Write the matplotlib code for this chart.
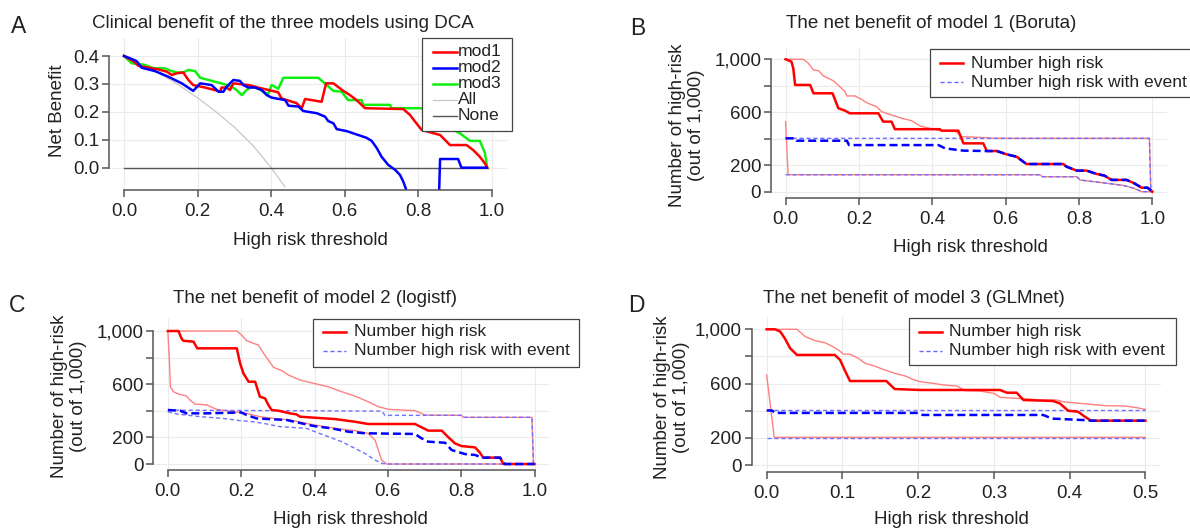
import matplotlib
matplotlib.use("Agg")
import matplotlib.pyplot as plt
from matplotlib.lines import Line2D
from matplotlib.patches import Rectangle

plt.rcParams['font.family'] = ['Liberation Sans', 'DejaVu Sans']

# ---- panel A: decision curves ----
mod1_x = [0, 0.025, 0.039, 0.075, 0.093, 0.116, 0.13, 0.143, 0.161, 0.175, 0.188, 0.22, 0.247, 0.261, 0.265,
          0.279, 0.288, 0.297, 0.338, 0.374, 0.419, 0.428, 0.469, 0.483, 0.492, 0.537, 0.549, 0.569, 0.596,
          0.614, 0.632, 0.655, 0.759, 0.777, 0.791, 0.809, 0.859, 0.886, 0.931, 0.949, 0.967, 0.981, 0.987]
mod1_y = [0.40, 0.382, 0.365, 0.356, 0.352, 0.344, 0.332, 0.338, 0.341, 0.314, 0.296, 0.287, 0.278, 0.272, 0.287,
          0.287, 0.278, 0.302, 0.296, 0.284, 0.27, 0.248, 0.231, 0.213, 0.246, 0.236, 0.302, 0.302, 0.275,
          0.26, 0.242, 0.213, 0.21, 0.189, 0.165, 0.135, 0.117, 0.081, 0.081, 0.063, 0.039, 0.015, 0.0]
mod2_x = [0, 0.016, 0.034, 0.048, 0.084, 0.12, 0.157, 0.188, 0.207, 0.238, 0.257, 0.27, 0.279, 0.297, 0.315,
          0.324, 0.338, 0.356, 0.374, 0.388, 0.401, 0.438, 0.447, 0.474, 0.487, 0.524, 0.546, 0.555, 0.569,
          0.578, 0.605, 0.632, 0.659, 0.673, 0.687, 0.70, 0.718, 0.737, 0.75, 0.759, 0.766, 0.768, 0.854,
          0.856, 0.859, 0.908, 0.917, 0.985]
mod2_y = [0.40, 0.392, 0.382, 0.358, 0.346, 0.326, 0.302, 0.275, 0.302, 0.296, 0.272, 0.272, 0.29, 0.314, 0.311,
          0.296, 0.287, 0.287, 0.278, 0.26, 0.251, 0.242, 0.222, 0.219, 0.203, 0.195, 0.183, 0.167, 0.159,
          0.138, 0.131, 0.119, 0.107, 0.096, 0.07, 0.039, 0.01, -0.008, -0.026, -0.05, -0.075, -0.15, -0.15,
          -0.10, 0.031, 0.031, 0.0, 0.0]
mod3_x = [0, 0.021, 0.057, 0.08, 0.111, 0.129, 0.143, 0.161, 0.175, 0.193, 0.207, 0.247, 0.265, 0.293, 0.306,
          0.32, 0.333, 0.347, 0.365, 0.379, 0.392, 0.401, 0.41, 0.419, 0.433, 0.528, 0.542, 0.569, 0.591,
          0.609, 0.646, 0.65, 0.723, 0.727, 0.808, 0.84, 0.87, 0.904, 0.913, 0.94, 0.967, 0.981, 0.987]
mod3_y = [0.40, 0.374, 0.368, 0.356, 0.356, 0.346, 0.341, 0.341, 0.35, 0.346, 0.322, 0.308, 0.302, 0.29, 0.278,
          0.26, 0.278, 0.29, 0.284, 0.272, 0.263, 0.296, 0.29, 0.282, 0.322, 0.322, 0.306, 0.275, 0.272,
          0.242, 0.242, 0.225, 0.225, 0.213, 0.213, 0.19, 0.16, 0.129, 0.123, 0.096, 0.096, 0.052, 0.0]
all_x = [0, 0.05, 0.1, 0.15, 0.2, 0.25, 0.3, 0.35, 0.4, 0.437]
all_y = [0.40, 0.37, 0.335, 0.295, 0.25, 0.20, 0.145, 0.08, 0.0, -0.068]
none_x = [0, 0.99]
none_y = [0, 0]

# ---- panel B: model 1 (Boruta) ----
b_nhr_x = [0, 0.016, 0.021, 0.026, 0.067, 0.076, 0.128, 0.144, 0.162, 0.175, 0.253, 0.266, 0.289, 0.298, 0.421,
           0.425, 0.471, 0.485, 0.539, 0.549, 0.576, 0.603, 0.63, 0.648, 0.657, 0.757, 0.766, 0.794, 0.821,
           0.848, 0.869, 0.889, 0.93, 0.951, 0.971, 0.987, 1.0]
b_nhr = [1000, 982, 932, 806, 806, 743, 743, 630, 612, 592, 592, 529, 529, 472, 472, 461, 461, 365, 365, 307,
         307, 282, 264, 227, 209, 209, 189, 159, 159, 134, 122, 89, 89, 63, 30, 30, 0]
b_nhr_up_x = [0, 0.048, 0.062, 0.076, 0.09, 0.103, 0.13, 0.148, 0.162, 0.167, 0.189, 0.202, 0.225, 0.248, 0.262,
              0.289, 0.317, 0.344, 0.367, 0.394, 0.421, 0.466, 0.479, 0.53, 0.576, 0.992, 0.996]
b_nhr_up = [1000, 1000, 970, 919, 914, 874, 838, 793, 755, 723, 723, 705, 667, 642, 604, 579, 554, 536, 496,
            478, 461, 453, 416, 410, 403, 403, 0]
b_nhr_lo_x = [0, 0.007, 0.694, 0.70, 0.794, 0.803, 0.84, 0.88, 0.92, 0.951, 0.971, 1.0]
b_nhr_lo = [529, 128, 128, 113, 113, 88, 76, 62, 48, 25, 0, 0]
b_ev_x = [0, 0.026, 0.03, 0.167, 0.173, 0.417, 0.435, 0.485, 0.549, 0.576, 0.603, 0.63, 0.648, 0.657, 0.757,
          0.766, 0.794, 0.821, 0.848, 0.869, 0.889, 0.93, 0.951, 0.971, 0.987, 1.0]
b_ev = [403, 403, 385, 385, 352, 352, 327, 310, 307, 307, 282, 264, 227, 209, 209, 189, 159, 159, 134, 122,
        89, 89, 63, 30, 30, 0]
b_ev_up_x = [0, 0.992, 0.996]
b_ev_up = [403, 403, 0]
b_ev_lo_x = [0, 0.694, 0.70, 0.794, 0.803, 0.84, 0.88, 0.92, 0.951, 0.971, 1.0]
b_ev_lo = [128, 128, 113, 113, 88, 76, 62, 48, 25, 0, 0]

# ---- panel C: model 2 (logistf) ----
c_nhr_x = [0, 0.029, 0.037, 0.042, 0.07, 0.08, 0.188, 0.197, 0.206, 0.22, 0.238, 0.251, 0.265, 0.274, 0.283,
           0.301, 0.333, 0.351, 0.36, 0.401, 0.456, 0.51, 0.546, 0.674, 0.692, 0.71, 0.747, 0.765, 0.783,
           0.801, 0.838, 0.851, 0.86, 0.906, 0.915, 1.0]
c_nhr = [1000, 1000, 945, 927, 920, 870, 870, 757, 682, 619, 619, 506, 494, 444, 406, 401, 381, 373, 356, 348,
         338, 318, 301, 301, 276, 251, 251, 201, 155, 135, 125, 85, 48, 48, 0, 0]
c_nhr_up_x = [0, 0.188, 0.201, 0.215, 0.234, 0.247, 0.261, 0.274, 0.288, 0.311, 0.329, 0.36, 0.397, 0.437,
              0.474, 0.51, 0.546, 0.574, 0.602, 0.674, 0.702, 0.801, 0.806, 0.993, 0.997]
c_nhr_up = [1000, 1000, 970, 927, 907, 895, 832, 782, 727, 702, 669, 632, 607, 581, 544, 511, 469, 431, 411,
            401, 368, 366, 351, 351, 0]
c_nhr_lo_x = [0, 0.004, 0.007, 0.015, 0.029, 0.051, 0.06, 0.074, 0.106, 0.133, 0.179, 0.215, 0.251, 0.288,
              0.333, 0.388, 0.401, 0.456, 0.51, 0.546, 0.565, 0.574, 0.583, 0.597, 1.0]
c_nhr_lo = [1000, 782, 581, 544, 526, 511, 481, 451, 444, 411, 393, 381, 356, 343, 331, 300, 293, 268, 251,
            231, 180, 105, 30, 0, 0]
c_ev_x = [0, 0.033, 0.051, 0.106, 0.2, 0.215, 0.242, 0.288, 0.324, 0.397, 0.447, 0.492, 0.538, 0.674, 0.692,
          0.71, 0.756, 0.774, 0.81, 0.838, 0.856, 0.906, 0.919, 1.0]
c_ev = [406, 401, 381, 381, 388, 368, 343, 336, 331, 286, 268, 243, 231, 226, 193, 168, 160, 105, 75, 68, 48,
        48, 0, 0]
c_ev_up_x = [0, 0.583, 0.592, 0.801, 0.806, 0.993, 0.997]
c_ev_up = [405, 398, 366, 366, 351, 351, 0]
c_ev_lo_x = [0, 0.024, 0.051, 0.088, 0.151, 0.197, 0.233, 0.27, 0.306, 0.378, 0.401, 0.437, 0.474, 0.51,
             0.537, 0.565, 0.583, 0.6, 1.0]
c_ev_lo = [393, 376, 368, 356, 343, 326, 318, 301, 281, 268, 243, 206, 168, 118, 80, 30, 5, 0, 0]

# ---- panel D: model 3 (GLMnet) ----
d_nhr_x = [0, 0.011, 0.018, 0.024, 0.031, 0.04, 0.09, 0.097, 0.103, 0.11, 0.158, 0.169, 0.202, 0.308, 0.317,
           0.33, 0.339, 0.378, 0.387, 0.398, 0.411, 0.42, 0.428, 0.5]
d_nhr = [1000, 1000, 983, 933, 860, 811, 811, 774, 700, 619, 619, 560, 553, 553, 533, 533, 479, 472, 454, 400,
         393, 356, 327, 327]
d_nhr_up_x = [0, 0.04, 0.051, 0.064, 0.077, 0.086, 0.095, 0.101, 0.11, 0.121, 0.13, 0.141, 0.156, 0.169,
              0.183, 0.193, 0.202, 0.22, 0.233, 0.251, 0.262, 0.282, 0.3, 0.308, 0.33, 0.348, 0.361, 0.383,
              0.391, 0.404, 0.422, 0.448, 0.473, 0.488, 0.5]
d_nhr_up = [1000, 1000, 946, 916, 901, 877, 847, 818, 816, 786, 749, 732, 700, 676, 656, 631, 614, 602, 590,
            582, 548, 545, 528, 499, 491, 486, 479, 479, 467, 459, 450, 437, 435, 423, 410]
d_nhr_lo_x = [0, 0.01, 0.5]
d_nhr_lo = [663, 204, 204]
d_ev_x = [0, 0.007, 0.011, 0.2, 0.206, 0.365, 0.377, 0.397, 0.423, 0.428, 0.5]
d_ev = [402, 402, 384, 384, 369, 369, 342, 337, 330, 327, 327]
d_ev_up_x = [0, 0.5]
d_ev_up = [402, 402]
d_ev_lo_x = [0, 0.5]
d_ev_lo = [202, 202]

x_ticks_1 = [0, 0.2, 0.4, 0.6, 0.8, 1.0]
x_labels_1 = ['0.0', '0.2', '0.4', '0.6', '0.8', '1.0']
x_ticks_d = [0, 0.1, 0.2, 0.3, 0.4, 0.5]
x_labels_d = ['0.0', '0.1', '0.2', '0.3', '0.4', '0.5']
nb_ticks = [0, 0.1, 0.2, 0.3, 0.4]
nb_labels = ['0.0', '0.1', '0.2', '0.3', '0.4']
n_ticks = [0, 200, 400, 600, 800, 1000]
n_labels = ['0', '200', '', '600', '', '1,000']

W, H = 1190, 528
TXT = '#222222'
AX = '#555555'
FS = 13.5
LFS = 12.6

fig = plt.figure(figsize=(W / 100, H / 100), dpi=100)


def px_axes(left, right, top, bottom):
    return fig.add_axes([left / W, 1 - bottom / H, (right - left) / W, (bottom - top) / H])


def style(ax, xt, xl, yt, yl):
    ax.set_xticks(xt)
    ax.set_xticklabels(xl)
    ax.set_yticks(yt)
    ax.set_yticklabels(yl)
    ax.grid(True, color='#EBEBEB', lw=0.8)
    ax.set_axisbelow(True)
    ax.spines['top'].set_visible(False)
    ax.spines['right'].set_visible(False)
    ax.spines['left'].set_bounds(yt[0], yt[-1])
    ax.spines['bottom'].set_bounds(xt[0], xt[-1])
    for s in ['left', 'bottom']:
        ax.spines[s].set_color(AX)
        ax.spines[s].set_linewidth(1.1)
    ax.tick_params(length=5, width=1.1, color=AX, labelsize=FS, labelcolor=TXT)
    ax.tick_params(axis='x', pad=4.5)
    ax.tick_params(axis='y', pad=2)


def ftext(x, y, s, **kw):
    kw.setdefault('color', TXT)
    kw.setdefault('fontsize', FS)
    fig.text(x / W, 1 - y / H, s, **kw)


def legend(left, top, right, bottom, rows, x0, x1, xt):
    fig.add_artist(Rectangle((left / W, 1 - bottom / H), (right - left) / W, (bottom - top) / H,
                             transform=fig.transFigure, facecolor='white', edgecolor='#444444', lw=0.9))
    for y, color, ls, lw, label in rows:
        fig.add_artist(Line2D([x0 / W, x1 / W], [1 - y / H, 1 - y / H], transform=fig.transFigure,
                              color=color, ls=ls, lw=lw))
        ftext(xt, y, label, ha='left', va='center', fontsize=LFS)


# ---- A ----
axA = px_axes(109.3, 506.7, 38, 190)
axA.set_xlim(-0.04, 1.04)
axA.set_ylim(-0.08, 0.4645)
axA.plot(all_x, all_y, color='#C8C8C8', lw=0.9)
axA.plot(none_x, none_y, color='#555555', lw=1.0)
axA.plot(mod3_x, mod3_y, color='#11EE11', lw=1.8)
axA.plot(mod1_x, mod1_y, color='#FF0000', lw=1.8)
axA.plot(mod2_x, mod2_y, color='#0000FF', lw=1.8)
style(axA, x_ticks_1, x_labels_1, nb_ticks, nb_labels)
legend(421.7, 37.7, 512, 131,
       [(51.5, '#FF0000', '-', 1.8, 'mod1'), (67.5, '#0000FF', '-', 1.8, 'mod2'),
        (83.5, '#11EE11', '-', 1.8, 'mod3'), (99.5, '#C8C8C8', '-', 0.9, 'All'),
        (115.5, '#555555', '-', 1.0, 'None')], 433, 457, 458)
ftext(283, 28.3, 'Clinical benefit of the three models using DCA', ha='center', va='baseline')
ftext(310, 245, 'High risk threshold', ha='center', va='baseline')
ftext(57, 111, 'Net Benefit', ha='center', va='center', rotation=90)
ftext(11, 33.3, 'A', ha='left', va='baseline', fontsize=16.5)


def impact(ax, d):
    nx, n, ux, u, lx, lo, ex, e, eux, eu, elx, el = d
    ax.plot(ux, u, color='#FF8080', lw=1.0)
    ax.plot(lx, lo, color='#FF8080', lw=1.0)
    ax.plot(eux, eu, color='#7070FF', lw=1.0, ls=(0, (3, 2)))
    ax.plot(elx, el, color='#7070FF', lw=1.0, ls=(0, (3, 2)))
    ax.plot(nx, n, color='#FF0000', lw=1.8)
    ax.plot(ex, e, color='#0000FF', lw=1.8, ls=(0, (3.2, 1.6)))


ylab = 'Number of high-risk\n(out of 1,000)'
leg_rows = lambda y1, y2: [(y1, '#FF0000', '-', 1.8, 'Number high risk'),
                           (y2, '#6666FF', (0, (3, 2)), 1.0, 'Number high risk with event')]

# ---- B ----
axB = px_axes(770.9, 1167, 48, 198)
axB.set_xlim(-0.04, 1.04)
axB.set_ylim(-47.6, 1085)
impact(axB, (b_nhr_x, b_nhr, b_nhr_up_x, b_nhr_up, b_nhr_lo_x, b_nhr_lo,
             b_ev_x, b_ev, b_ev_up_x, b_ev_up, b_ev_lo_x, b_ev_lo))
style(axB, x_ticks_1, x_labels_1, n_ticks, n_labels)
legend(929.5, 49.3, 1196, 97, leg_rows(63.3, 82.2), 940, 963, 971)
ftext(931, 28.3, 'The net benefit of model 1 (Boruta)', ha='center', va='baseline')
ftext(970, 251.7, 'High risk threshold', ha='center', va='baseline')
ftext(687, 125, ylab, ha='center', va='center', rotation=90, linespacing=1.15)
ftext(630, 35, 'B', ha='left', va='baseline', fontsize=16.5)

# ---- C ----
axC = px_axes(153.2, 549.2, 318, 470)
axC.set_xlim(-0.04, 1.04)
axC.set_ylim(-45, 1098)
impact(axC, (c_nhr_x, c_nhr, c_nhr_up_x, c_nhr_up, c_nhr_lo_x, c_nhr_lo,
             c_ev_x, c_ev, c_ev_up_x, c_ev_up, c_ev_lo_x, c_ev_lo))
style(axC, x_ticks_1, x_labels_1, n_ticks, n_labels)
legend(312.5, 319.3, 579, 366.7, leg_rows(331.7, 350.7), 323, 346, 353.6)
ftext(315, 303.3, 'The net benefit of model 2 (logistf)', ha='center', va='baseline')
ftext(350, 523.5, 'High risk threshold', ha='center', va='baseline')
ftext(68.7, 396.7, ylab, ha='center', va='center', rotation=90, linespacing=1.15)
ftext(9, 311.7, 'C', ha='left', va='baseline', fontsize=16.5)

# ---- D ----
axD = px_axes(751.5, 1160.6, 317, 471.7)
axD.set_xlim(-0.02, 0.52)
axD.set_ylim(-49, 1090.6)
impact(axD, (d_nhr_x, d_nhr, d_nhr_up_x, d_nhr_up, d_nhr_lo_x, d_nhr_lo,
             d_ev_x, d_ev, d_ev_up_x, d_ev_up, d_ev_lo_x, d_ev_lo))
style(axD, x_ticks_d, x_labels_d, n_ticks, n_labels)
legend(908.8, 317.7, 1175.5, 365.3, leg_rows(331.7, 350.7), 919, 942, 948.6)
ftext(914, 303.3, 'The net benefit of model 3 (GLMnet)', ha='center', va='baseline')
ftext(951, 523.5, 'High risk threshold', ha='center', va='baseline')
ftext(672.3, 397, ylab, ha='center', va='center', rotation=90, linespacing=1.15)
ftext(628.3, 311.7, 'D', ha='left', va='baseline', fontsize=16.5)

fig.savefig('out.png', dpi=100)
